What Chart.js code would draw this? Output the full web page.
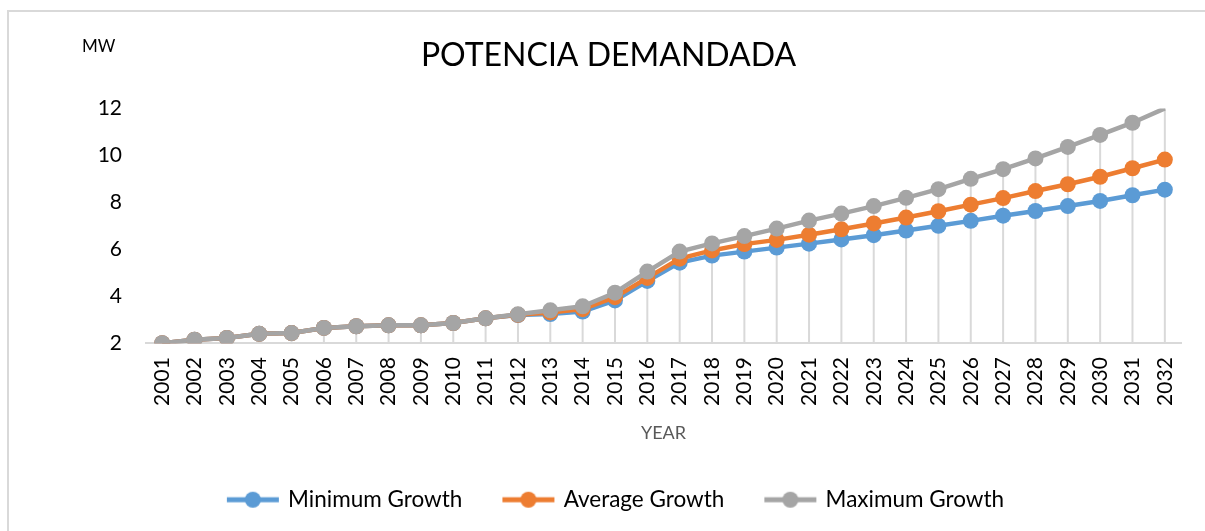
<!DOCTYPE html>
<html>
<head>
<meta charset="utf-8">
<script src="https://cdn.jsdelivr.net/npm/chart.js@4"></script>
<style>
  html, body { margin: 0; padding: 0; background: #fff; }
  #frame { position: absolute; left: 7px; top: 10px; width: 1300px; height: 600px;
           border-left: 2px solid #d9d9d9; border-top: 2px solid #d9d9d9; }
  #myChart { position: absolute; left: 0; top: 0; }
</style>
</head>
<body>
<div id="frame"></div>
<canvas id="myChart" width="1205" height="531"></canvas>
<script>
let years = ['2001', '2002', '2003', '2004', '2005', '2006', '2007', '2008', '2009', '2010',
	'2011', '2012', '2013', '2014', '2015', '2016', '2017', '2018', '2019', '2020',
	'2021', '2022', '2023', '2024', '2025', '2026', '2027', '2028', '2029', '2030',
	'2031', '2032'];
let minGrowth = [2.0, 2.15, 2.22, 2.40, 2.43, 2.65, 2.72, 2.76, 2.76, 2.86,
	3.06, 3.20, 3.24, 3.35, 3.82, 4.65, 5.43, 5.73, 5.90, 6.07,
	6.24, 6.42, 6.60, 6.80, 7.00, 7.21, 7.43, 7.63, 7.84, 8.06,
	8.30, 8.54];
let avgGrowth = [2.0, 2.15, 2.22, 2.40, 2.43, 2.65, 2.72, 2.76, 2.76, 2.86,
	3.06, 3.21, 3.31, 3.45, 3.96, 4.78, 5.60, 5.95, 6.22, 6.40,
	6.62, 6.85, 7.10, 7.35, 7.62, 7.90, 8.18, 8.48, 8.77, 9.09,
	9.45, 9.82];
let maxGrowth = [2.0, 2.15, 2.22, 2.40, 2.43, 2.65, 2.72, 2.76, 2.76, 2.86,
	3.06, 3.23, 3.40, 3.57, 4.15, 5.05, 5.90, 6.25, 6.56, 6.88,
	7.22, 7.52, 7.84, 8.19, 8.56, 9.00, 9.41, 9.87, 10.36, 10.87,
	11.39, 12.0];
let yTicks = [2, 4, 6, 8, 10, 12];
let seriesNames = ['Minimum Growth', 'Average Growth', 'Maximum Growth'];
let colors = ['#5B9BD5', '#ED7D31', '#A5A5A5'];

let font = 'Lato';

// legend symbol: short line with a dot in the middle
function legendIcon(color) {
	let c = document.createElement('canvas');
	c.width = 54; c.height = 18;
	let g = c.getContext('2d');
	g.strokeStyle = color;
	g.lineWidth = 5;
	g.beginPath(); g.moveTo(1, 9); g.lineTo(53, 9); g.stroke();
	g.fillStyle = color;
	g.beginPath(); g.arc(27, 9, 8, 0, Math.PI * 2); g.fill();
	return c;
}

// drop lines from the highest point of each year down to the axis
let dropLines = {
	id: 'dropLines',
	afterLayout(chart) {
		// legend sits a little right of centre in the original
		chart.legend.left += 8;
		chart.legend.right += 8;
	},
	beforeDatasetsDraw(chart) {
		let ctx = chart.ctx;
		let area = chart.chartArea;
		ctx.save();
		ctx.strokeStyle = '#d9d9d9';
		ctx.lineWidth = 2;
		years.forEach((y, i) => {
			let top = area.bottom;
			chart.data.datasets.forEach((ds, d) => {
				let pt = chart.getDatasetMeta(d).data[i];
				if (pt) top = Math.min(top, pt.y);
			});
			top = Math.max(top, area.top);
			let x = chart.scales.x.getPixelForValue(i);
			ctx.beginPath(); ctx.moveTo(x, top); ctx.lineTo(x, area.bottom); ctx.stroke();
		});
		ctx.restore();
	},
	afterDraw(chart) {
		let ctx = chart.ctx;
		ctx.save();
		ctx.fillStyle = '#000';
		ctx.font = '17px ' + font;
		ctx.textAlign = 'left';
		ctx.textBaseline = 'middle';
		ctx.fillText('MW', 82, 47);
		ctx.restore();
	}
};

let ctx = document.getElementById('myChart').getContext('2d');

let chart = new Chart(ctx, {
	type: 'line',
	data: {
		labels: years,
		datasets: [minGrowth, avgGrowth, maxGrowth].map((vals, i) => ({
			label: seriesNames[i],
			data: vals,
			order: 2 - i, // later series on top, as in the original
			borderColor: colors[i],
			backgroundColor: colors[i],
			borderWidth: 4.5,
			pointRadius: c => (c.raw >= 12 ? 0 : 8),
			pointHoverRadius: 8,
			pointBorderWidth: 0,
			tension: 0,
			clip: 0
		}))
	},
	plugins: [dropLines],
	options: {
		responsive: false,
		animation: false,
		layout: { padding: { top: 36, right: 24, left: 36, bottom: 10 } },
		plugins: {
			title: {
				display: true,
				text: 'POTENCIA DEMANDADA',
				color: '#000',
				font: { family: font, size: 32, weight: 'normal' },
				padding: { top: 0, bottom: 34 }
			},
			legend: {
				position: 'bottom',
				labels: {
					usePointStyle: true,
					pointStyleWidth: 48,
					boxHeight: 18,
					padding: 42,
					color: '#000',
					font: { family: font, size: 22.5 },
					generateLabels: c => c.data.datasets.map((ds, i) => ({
						text: ds.label,
						pointStyle: legendIcon(colors[i]),
						fillStyle: colors[i],
						strokeStyle: colors[i],
						lineWidth: 0,
						datasetIndex: i
					}))
				}
			},
			tooltip: { enabled: false }
		},
		scales: {
			x: {
				offset: true,
				grid: { display: false, drawTicks: false },
				border: { display: true, color: '#d9d9d9', width: 2 },
				ticks: { color: '#000', minRotation: 90, maxRotation: 90, padding: 14,
					font: { family: font, size: 21 } },
				title: { display: true, text: 'YEAR', color: '#595959',
					font: { family: font, size: 18 }, padding: { top: 2, bottom: 3 } }
			},
			y: {
				min: 2,
				max: 12,
				afterFit: s => { s.width = 110; },
				afterBuildTicks: s => { s.ticks = yTicks.map(v => ({ value: v })); },
				grid: { display: false, drawTicks: false },
				border: { display: false },
				ticks: { color: '#000', padding: 24, font: { family: font, size: 21 } }
			}
		}
	}
});
</script>
</body>
</html>
